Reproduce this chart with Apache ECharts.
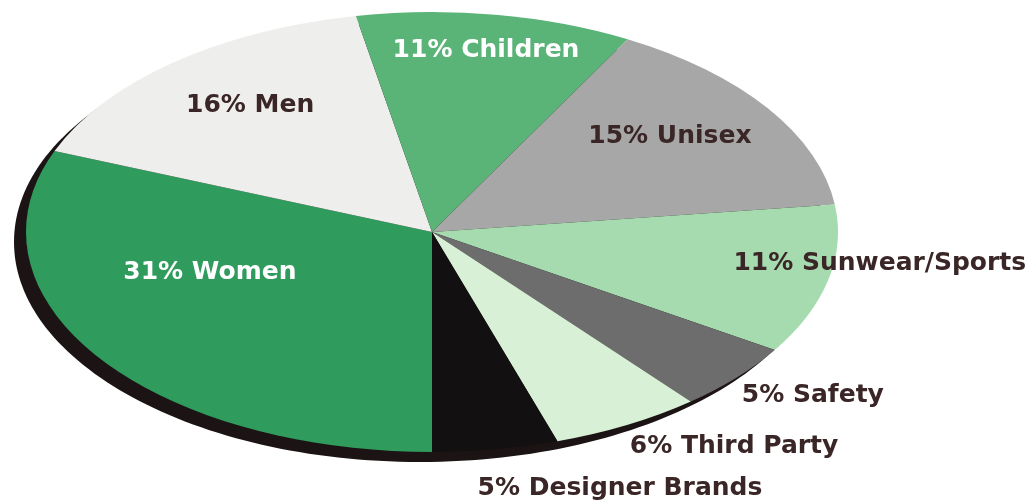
<!DOCTYPE html>
<html>
<head>
<meta charset="utf-8">
<script src="https://cdn.jsdelivr.net/npm/echarts@6/dist/echarts.min.js"></script>
<style>
  html, body { margin: 0; padding: 0; background: #ffffff; }
  #chart { width: 1033px; height: 504px; }
</style>
</head>
<body>
<div id="chart"></div>
<script>
// ---- data ----
const categories = ['Women', 'Men', 'Children', 'Unisex', 'Sunwear/Sports', 'Safety', 'Third Party', 'Designer Brands'];
const shares = [31, 16, 11, 15, 11, 5, 6, 5];

// ---- style / layout (kept apart from data) ----
const sliceColors = ['#2f9b5c', '#eeeeec', '#5ab377', '#a7a7a7', '#a6dbb0', '#6d6d6d', '#d8f0d6', '#121010'];
const labelColors = ['#ffffff', '#3a2626', '#ffffff', '#3a2626', '#3a2626', '#3a2626', '#3a2626', '#3a2626'];
// label anchor as fraction of the ellipse radii from its centre
const labelPos = [[-0.547, 0.182], [-0.448, -0.573], [0.133, -0.823], [0.586, -0.432],
                  [1.103, 0.145], [0.938, 0.745], [0.744, 0.973], [0.463, 1.168]];
const PIE = { cx: 432, cy: 232, rx: 406, ry: 220, shadowDx: -12, shadowDy: 10 };

const total = shares.reduce((a, b) => a + b, 0);
const cum = [];
shares.reduce((acc, v, i) => { cum[i] = acc; return acc + v; }, 0);

const chart = echarts.init(document.getElementById('chart'), null, { renderer: 'canvas' });

function renderItem(params, api) {
  const i = params.dataIndex;
  const v = api.value(0);
  const a0 = Math.PI / 2 + cum[i] / total * Math.PI * 2;
  const a1 = a0 + v / total * Math.PI * 2;
  const children = [];
  if (i === 0) {
    children.push({
      type: 'ellipse',
      shape: { cx: PIE.cx + PIE.shadowDx, cy: PIE.cy + PIE.shadowDy, rx: PIE.rx, ry: PIE.ry },
      style: { fill: '#1c1414' }
    });
  }
  children.push({
    type: 'sector',
    originX: PIE.cx,
    originY: PIE.cy,
    scaleY: PIE.ry / PIE.rx,
    shape: { cx: PIE.cx, cy: PIE.cy, r: PIE.rx, r0: 0, startAngle: a0, endAngle: a1, clockwise: true },
    style: { fill: sliceColors[i] }
  });
  return { type: 'group', children: children };
}

function renderLabel(params, api) {
  const i = params.dataIndex;
  return {
    type: 'text',
    style: {
      x: PIE.cx + labelPos[i][0] * PIE.rx,
      y: PIE.cy + labelPos[i][1] * PIE.ry,
      text: api.value(0) + '% ' + categories[i],
      fill: labelColors[i],
      font: 'bold 25px "DejaVu Sans"',
      align: 'center',
      verticalAlign: 'middle'
    }
  };
}

chart.setOption({
  backgroundColor: '#ffffff',
  animation: false,
  series: [
    {
      type: 'custom',
      coordinateSystem: 'none',
      renderItem: renderItem,
      data: shares.map(v => [v]),
      z: 2,
      silent: true
    },
    {
      type: 'custom',
      coordinateSystem: 'none',
      renderItem: renderLabel,
      data: shares.map(v => [v]),
      z: 5,
      silent: true
    }
  ]
});
</script>
</body>
</html>
